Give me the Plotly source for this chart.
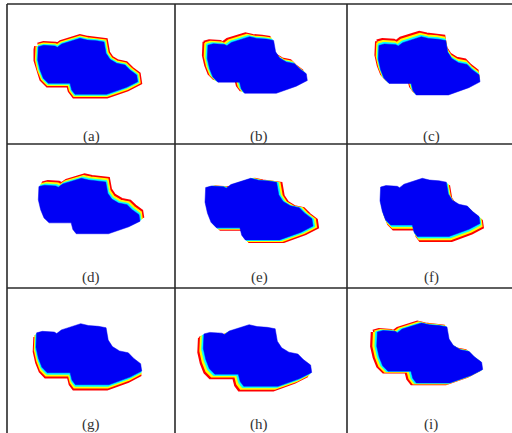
import plotly.graph_objects as go

# Base outline of the segmented region (relative units, panel (a) scale)
base_x = [0.6, 6, 17.3, 19.6, 24, 32.3, 42.3, 49.6, 59, 66.3, 68.3, 72.3, 79, 87.3, 92.3, 99, 100, 89, 69, 37.3, 34, 32.3, 29, 10.6, 5.6, 2.3, 0, 0]
base_y = [8.4, 7.0, 7.7, 9, 5.7, 3.4, 0, 1.7, 2.4, 3.7, 15, 21, 25, 26.7, 31.7, 36.7, 43.4, 49, 56, 56, 51.7, 45, 45, 45, 40, 31.7, 21.7, 11.7]

labels = ["(a)", "(b)", "(c)", "(d)", "(e)", "(f)", "(g)", "(h)", "(i)"]

# per-panel placement of the region inside its cell
off_x = [30.7, 32.3, 31.3, 31.3, 30.0, 33.0, 29.0, 28.3, 29.7]
off_y = [34.3, 32.7, 32.7, 34.3, 34.3, 34.3, 35.7, 36.7, 35.0]
scale_x = [1.0, 1.0, 1.017, 1.017, 1.08, 1.0, 1.057, 1.084, 1.06]
scale_y = [1.0, 1.01, 1.04, 0.99, 1.10, 1.04, 1.09, 1.10, 1.07]
# displacement of the contour bands (per band step) and uniform growth
shift_x = [0.0, -1.4, -0.7, 1.1, 1.4, 0.9, -0.6, -1.6, -1.4]
shift_y = [0.0, -1.1, -1.4, -1.4, 0.4, 1.4, 1.4, 1.3, 0.0]
grow = [1.4, 0.4, 0.6, 0.3, 0.6, 0.4, 0.5, 0.4, 0.8]

col_x0 = [7, 175, 347]
row_y0 = [4, 144, 288]
label_dx = 84
label_dy = [132, 133, 136]

band_colors = ["#ff0000", "#ffff00", "#00ffff"]
blue = "#0000f5"

fig = go.Figure()

for i in range(9):
    r, c = divmod(i, 3)
    px0, py0 = col_x0[c], row_y0[r]
    xs = [px0 + off_x[i] + scale_x[i] * bx for bx in base_x]
    ys = [py0 + off_y[i] + scale_y[i] * by for by in base_y]
    for k, colr in zip([3, 2, 1], band_colors):
        fig.add_trace(go.Scatter(
            x=[v + k * shift_x[i] for v in xs] + [xs[0] + k * shift_x[i]],
            y=[v + k * shift_y[i] for v in ys] + [ys[0] + k * shift_y[i]],
            mode="lines", fill="toself", fillcolor=colr,
            line=dict(color=colr, width=max(2 * k * grow[i], 0.1)),
            hoverinfo="skip", showlegend=False))
    fig.add_trace(go.Scatter(
        x=xs + [xs[0]], y=ys + [ys[0]],
        mode="lines", fill="toself", fillcolor=blue,
        line=dict(color=blue, width=0.5),
        hoverinfo="skip", showlegend=False))
    fig.add_annotation(x=px0 + label_dx, y=py0 + label_dy[r], text=labels[i],
                       showarrow=False, xanchor="center", yanchor="middle",
                       font=dict(family="Liberation Serif", size=15, color="#333333"))

line_style = dict(color="#2a2a2a", width=1.6)
for y0 in row_y0:
    fig.add_shape(type="line", x0=col_x0[0], x1=512, y0=y0, y1=y0, line=line_style)
for x0 in col_x0:
    fig.add_shape(type="line", x0=x0, x1=x0, y0=row_y0[0], y1=433, line=line_style)

fig.update_layout(
    width=512, height=433,
    margin=dict(l=0, r=0, t=0, b=0),
    paper_bgcolor="white", plot_bgcolor="white",
    xaxis=dict(range=[0, 512], visible=False, fixedrange=True),
    yaxis=dict(range=[433, 0], visible=False, fixedrange=True),
    showlegend=False,
)

fig.write_html("out.html", config={"displayModeBar": False},
               post_script="document.body.style.margin='0';")
